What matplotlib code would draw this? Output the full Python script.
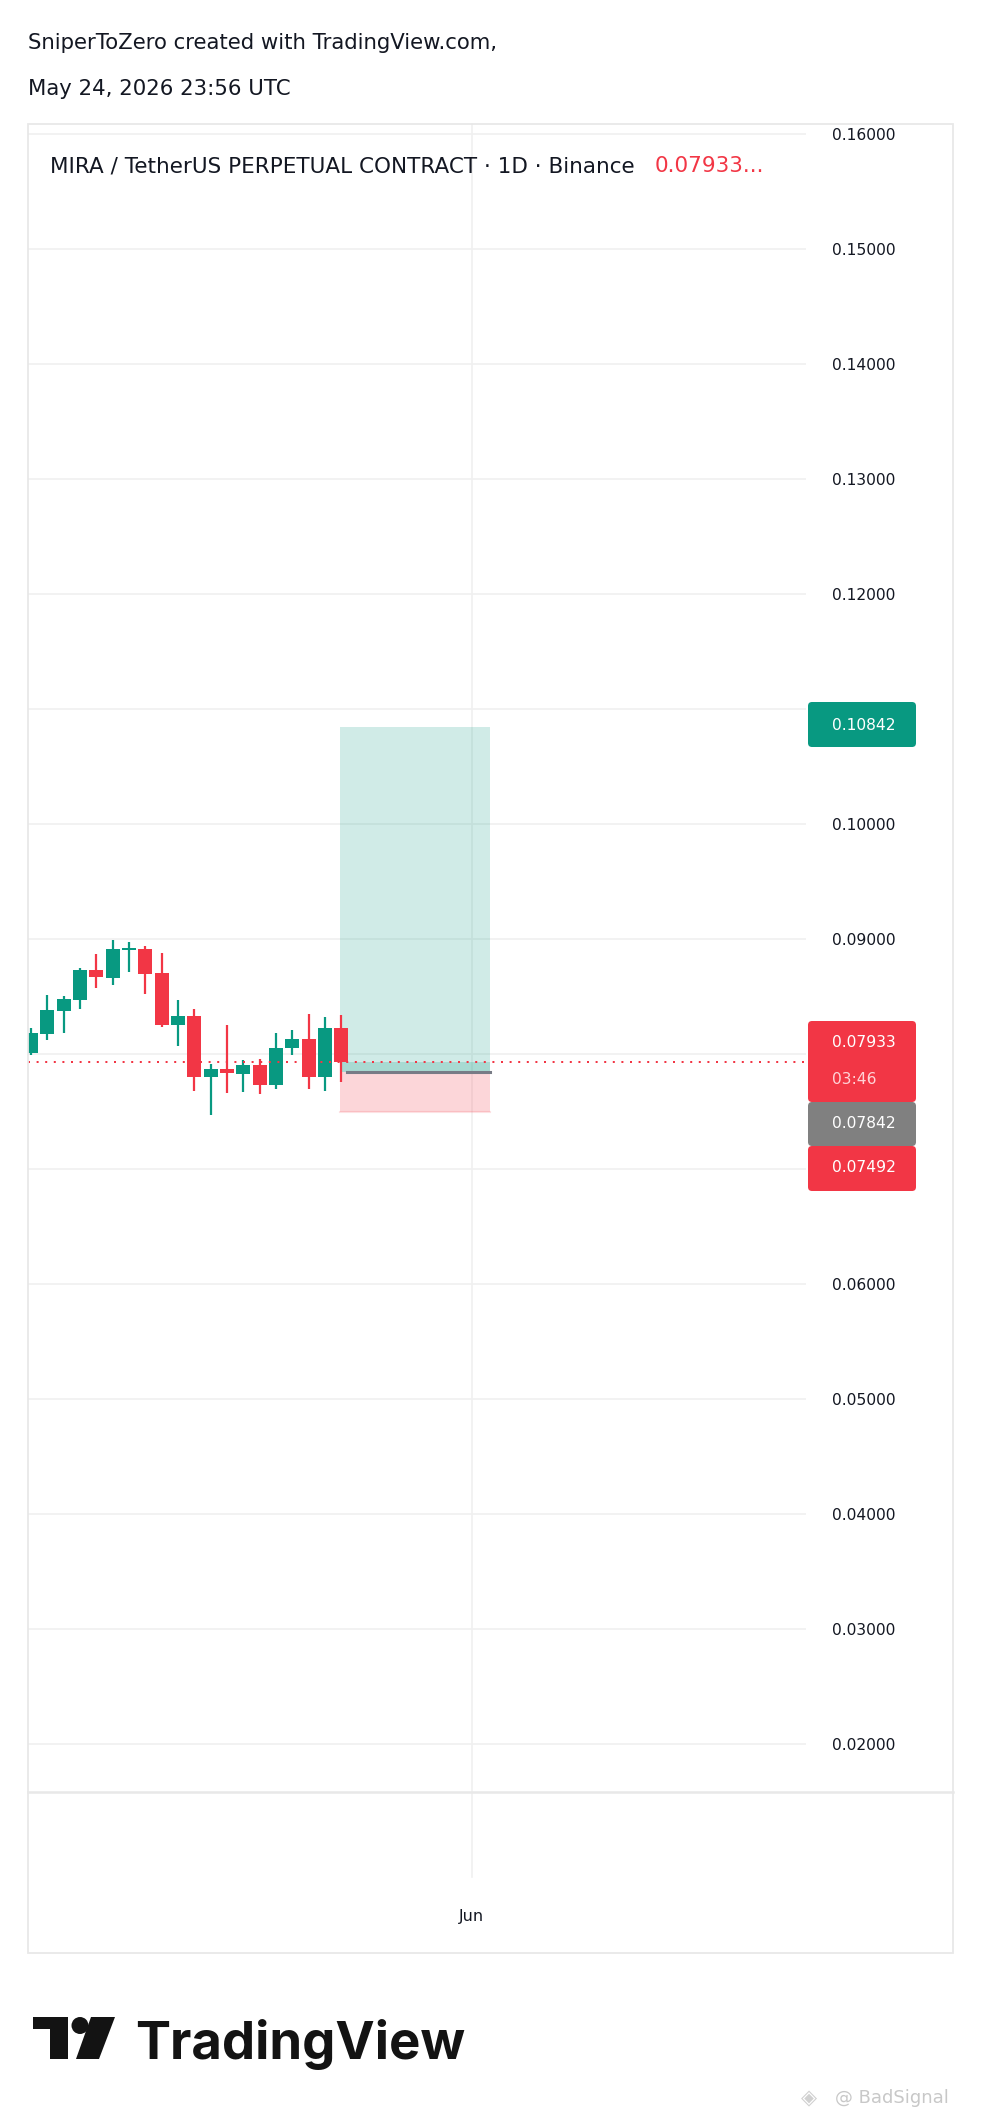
import matplotlib
matplotlib.use('Agg')
import matplotlib.pyplot as plt
import matplotlib.transforms as mtrans
from matplotlib.patches import Rectangle, FancyBboxPatch, Polygon, Circle
from matplotlib.lines import Line2D
from matplotlib import font_manager

# ---------------- data ----------------
opens  = [0.08012, 0.08177, 0.08377, 0.08472, 0.08730, 0.08664, 0.08904, 0.08913, 0.08704, 0.08252,
          0.08330, 0.07800, 0.07870, 0.07826, 0.07904, 0.07730, 0.08052, 0.08130, 0.07800, 0.08226]
highs  = [0.08226, 0.08513, 0.08504, 0.08748, 0.08870, 0.08991, 0.08974, 0.08939, 0.08878, 0.08470,
          0.08391, 0.07913, 0.08252, 0.07948, 0.07957, 0.08183, 0.08209, 0.08348, 0.08322, 0.08339]
lows   = [0.07991, 0.08125, 0.08185, 0.08394, 0.08574, 0.08600, 0.08713, 0.08522, 0.08235, 0.08070,
          0.07678, 0.07470, 0.07661, 0.07670, 0.07652, 0.07696, 0.07991, 0.07696, 0.07678, 0.07757]
closes = [0.08183, 0.08383, 0.08478, 0.08730, 0.08672, 0.08913, 0.08922, 0.08696, 0.08252, 0.08330,
          0.07800, 0.07870, 0.07835, 0.07904, 0.07730, 0.08052, 0.08130, 0.07800, 0.08226, 0.07933]

last_price = 0.07933
entry_price = 0.07842
target_price = 0.10842
stop_price = 0.07492
countdown = "03:46"
pos_start = 18.95
pos_end = 28.1
month_tick = 27
month_label = "Jun"
y_ticks = [0.02, 0.03, 0.04, 0.05, 0.06, 0.07, 0.08, 0.09, 0.10, 0.11, 0.12, 0.13, 0.14, 0.15, 0.16]

header1 = "SniperToZero created with TradingView.com,"
header2 = "May 24, 2026 23:56 UTC"
title = "MIRA / TetherUS PERPETUAL CONTRACT · 1D · Binance"
title_price = "0.07933..."

# ---------------- style ----------------
GREEN = '#089981'
RED = '#F23645'
GRID = '#F0F0F0'
TXT = '#131722'

avail = {f.name for f in font_manager.fontManager.ttflist}
def pick(*names):
    for n in names:
        if n in avail:
            return n
    return 'DejaVu Sans'
FONT = pick('DejaVu Sans')
LOGO_FONT = pick('Inter', 'Roboto', 'Lato', 'DejaVu Sans')
plt.rcParams['font.family'] = [FONT]

W, H = 982, 2118
fig = plt.figure(figsize=(W / 100, H / 100), dpi=100)
fig.patch.set_facecolor('white')

def fx(px):
    return px / W
def fy(py):
    return 1 - py / H

# price pane axes: x 28..806 px, y 124..1792 px
ax = fig.add_axes([fx(28), fy(1792), fx(806) - fx(28), fy(124) - fy(1792)])
ax.set_xlim(-0.19, 47.48)
ax.set_ylim(0.01583, 0.16087)
for s in ax.spines.values():
    s.set_visible(False)
ax.set_facecolor('white')

# grid
for t in y_ticks:
    ax.axhline(t, color=GRID, lw=1.2, zorder=0)
blend = mtrans.blended_transform_factory(ax.transData, ax.transAxes)
ax.plot([month_tick, month_tick], [-0.051, 1.0], transform=blend, color=GRID, lw=1.2,
        clip_on=False, zorder=0)

# y ticks on right
ax.set_yticks(y_ticks)
ax.set_yticklabels([f"{t:.5f}" for t in y_ticks])
ax.yaxis.set_ticks_position('right')
ax.tick_params(axis='y', length=0, pad=18.5, labelsize=11.2, labelcolor=TXT)
ax.set_xticks([])

# x label
ax.text(month_tick, -(1916 - 1792) / 1668, month_label, transform=blend, ha='center', va='center',
        fontsize=11.5, color=TXT)

# candles
xs = list(range(len(opens)))
for i in xs:
    o, h, l, c = opens[i], highs[i], lows[i], closes[i]
    col = GREEN if c >= o else RED
    ax.vlines(i, l, h, color=col, lw=1.6, zorder=3)
    ax.bar(i, max(abs(c - o), 0.00006), bottom=min(o, c), width=0.86, color=col,
           edgecolor='none', zorder=4)

# position tool
ax.add_patch(Rectangle((pos_start, entry_price), pos_end - pos_start, target_price - entry_price,
                       facecolor=GREEN, alpha=0.19, edgecolor='none', zorder=2))
ax.add_patch(Rectangle((pos_start, stop_price), pos_end - pos_start, entry_price - stop_price,
                       facecolor=RED, alpha=0.2, edgecolor='none', zorder=2))
ax.add_patch(Rectangle((pos_start, entry_price), pos_end - pos_start, last_price - entry_price,
                       facecolor=GREEN, alpha=0.2, edgecolor='none', zorder=2))
ax.plot([pos_start, pos_end], [stop_price, stop_price], color=RED, alpha=0.15, lw=1.5, zorder=2)
ax.plot([pos_start + 0.4, pos_end], [entry_price, entry_price], color='#787B86', lw=2.2, zorder=5)

# last price dotted line
ax.axhline(last_price, color=RED, lw=1.44, linestyle=(0, (1, 3.3)), zorder=6)

# ---------------- price labels (pixel layout) ----------------
def label_box(y0, y1, color):
    p = FancyBboxPatch((808, H - y1), 108, y1 - y0, boxstyle="round,pad=0,rounding_size=4",
                       facecolor=color, edgecolor='none', transform=None, zorder=10)
    fig.add_artist(p)

label_box(702, 747, GREEN)
fig.text(fx(832), fy(725), f"{target_price:.5f}", color='white', fontsize=11.2, va='center', ha='left', zorder=11)
label_box(1021, 1102, RED)
fig.text(fx(832), fy(1042), f"{last_price:.5f}", color='white', fontsize=11.2, va='center', ha='left', zorder=11)
fig.text(fx(832), fy(1080), countdown, color='#FFD3D7', fontsize=11.2, va='center', ha='left', zorder=11)
label_box(1102, 1146, '#808080')
fig.text(fx(832), fy(1124), f"{entry_price:.5f}", color='white', fontsize=11.2, va='center', ha='left', zorder=11)
label_box(1146, 1191, RED)
fig.text(fx(832), fy(1168), f"{stop_price:.5f}", color='white', fontsize=11.2, va='center', ha='left', zorder=11)

# ---------------- frame ----------------
fig.add_artist(Rectangle((fx(28), fy(1953)), fx(953) - fx(28), fy(124) - fy(1953),
                         transform=fig.transFigure, facecolor='none', edgecolor='#E8E8E8', lw=1.3))
fig.add_artist(Line2D([fx(28), fx(953)], [fy(1792), fy(1792)], transform=fig.transFigure,
                      color='#E8E8E8', lw=1.8))

# ---------------- header texts ----------------
fig.text(fx(28), fy(43), header1, fontsize=15.3, color=TXT, va='center', ha='left')
fig.text(fx(28), fy(89), header2, fontsize=15.3, color=TXT, va='center', ha='left')
t1 = fig.text(fx(50), fy(166), title, fontsize=15.5, color=TXT, va='center', ha='left', zorder=8)
fig.canvas.draw()
r = fig.canvas.get_renderer()
bb = t1.get_window_extent(r)
fig.text((bb.x1 + 20) / W, fy(166), title_price, fontsize=15.5, color=RED, va='center', ha='left', zorder=8)

# ---------------- TradingView logo ----------------
logo_col = '#131313'
fig.add_artist(Polygon([(33, H - 2017), (68, H - 2017), (68, H - 2059), (50, H - 2059),
                        (50, H - 2029), (33, H - 2029)], closed=True, transform=None,
                       facecolor=logo_col, edgecolor='none'))
fig.add_artist(Circle((80, H - 2025.5), 8.5, transform=None, facecolor=logo_col, edgecolor='none'))
fig.add_artist(Polygon([(91, H - 2017), (115, H - 2017), (99, H - 2059), (76, H - 2059)],
                       closed=True, transform=None, facecolor=logo_col, edgecolor='none'))
tv = fig.text(fx(135), fy(2059), "TradingView", fontsize=40, fontweight='bold', family=LOGO_FONT,
              color=logo_col, va='baseline', ha='left')
fig.canvas.draw()
w = tv.get_window_extent(fig.canvas.get_renderer()).width
tv.set_fontsize(40 * 331 / w)

# watermark
fig.text(fx(801), fy(2098), "◈", fontsize=15, color='#D0D0D0', va='center', ha='left')
fig.text(fx(835), fy(2098), "@ BadSignal", fontsize=13, color='#C8C8C8', va='center', ha='left')

fig.savefig('out.png', dpi=100, facecolor='white')
